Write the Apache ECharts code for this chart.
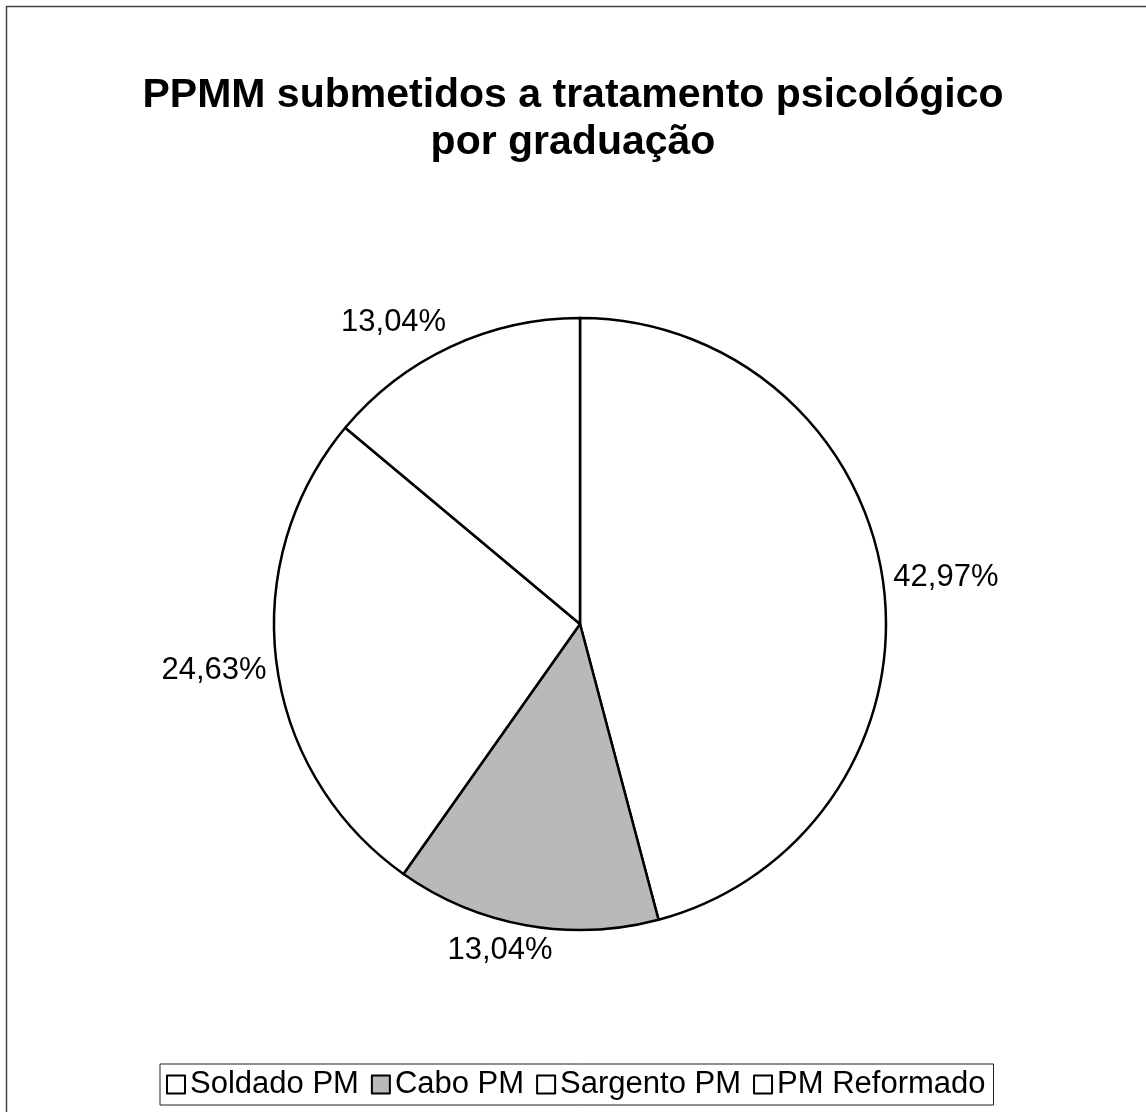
<!DOCTYPE html>
<html><head><meta charset="utf-8">
<script src="https://cdn.jsdelivr.net/npm/echarts@6/dist/echarts.min.js"></script>
<style>html,body{margin:0;padding:0;background:#fff}#c{width:1146px;height:1112px}</style>
</head><body><div id="c"></div>
<script>
const categories = ['Soldado PM', 'Cabo PM', 'Sargento PM', 'PM Reformado'];
const values = [42.97, 13.04, 24.63, 13.04];
const colors = ['#ffffff', '#b9b9b9', '#ffffff', '#ffffff'];
const titleText = 'PPMM submetidos a tratamento psicológico\npor graduação';

const chart = echarts.init(document.getElementById('c'), null, {renderer: 'canvas'});
const font = '"Liberation Sans", Arial, sans-serif';
const labelGap = 10;
const attachK = 1.3;
const clamp01 = v => Math.max(0, Math.min(1, v));
chart.setOption({
  backgroundColor: '#fff',
  animation: false,
  title: {
    text: titleText, left: 'center', top: 67,
    textStyle: {fontFamily: font, fontWeight: 'bold', fontSize: 41, lineHeight: 47, color: '#000'}
  },
  legend: {
    data: categories, top: 1064, left: 160,
    icon: 'rect', itemWidth: 18, itemHeight: 18, itemGap: 12,
    padding: [5, 8, 5, 6],
    borderColor: '#222', borderWidth: 1,
    textStyle: {fontFamily: font, fontSize: 31, color: '#000'},
    itemStyle: {borderColor: '#000', borderWidth: 2}
  },
  graphic: [{
    type: 'rect', shape: {x: 6.5, y: 6.5, width: 1200, height: 1200},
    style: {fill: 'none', stroke: '#444', lineWidth: 1.5}, silent: true
  }],
  series: [{
    type: 'pie', center: [580, 624], radius: 306, startAngle: 90, clockwise: true,
    avoidLabelOverlap: false,
    data: categories.map((n, i) => ({name: n, value: values[i], itemStyle: {color: colors[i]}})),
    itemStyle: {borderColor: '#000', borderWidth: 2.5},
    label: {
      show: true, position: 'outside',
      formatter: p => p.value.toFixed(2).replace('.', ',') + '%',
      fontFamily: font, fontSize: 31, color: '#000'
    },
    labelLine: {show: true, length: 10, length2: 0, lineStyle: {opacity: 0, width: 0}},
    labelLayout: function (params) {
      const pts = params.labelLinePoints;
      if (!pts || pts.length < 2) return {};
      const p0 = pts[0], p1 = pts[1];
      let dx = p1[0] - p0[0], dy = p1[1] - p0[1];
      const len = Math.sqrt(dx * dx + dy * dy) || 1;
      dx /= len; dy /= len;
      const w = params.labelRect.width, h = params.labelRect.height;
      const ax = p0[0] + dx * labelGap, ay = p0[1] + dy * labelGap;
      const fx = clamp01(0.5 - dx * attachK), fy = clamp01(0.5 - dy * attachK);
      const left = ax - fx * w, top = ay - fy * h;
      return {x: left + w / 2, y: top + h / 2, align: 'center', verticalAlign: 'middle'};
    },
    emphasis: {disabled: true}
  }]
});
</script></body></html>
